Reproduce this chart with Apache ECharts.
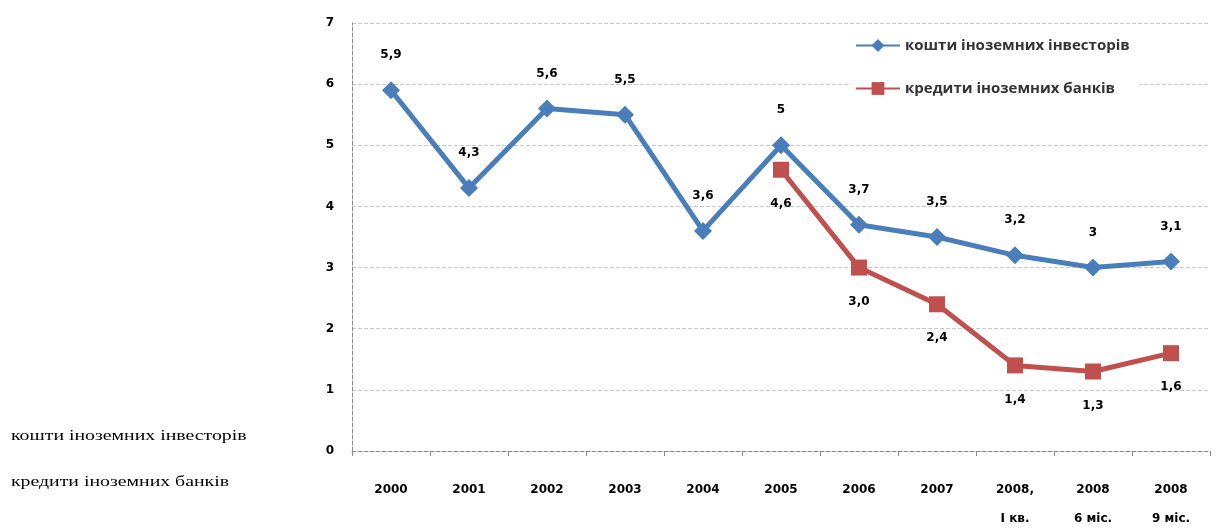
<!DOCTYPE html>
<html><head><meta charset="utf-8">
<script src="https://cdn.jsdelivr.net/npm/echarts@6/dist/echarts.min.js"></script>
<style>html,body{margin:0;padding:0;background:#fff}#c{width:1216px;height:529px}</style>
</head><body><div id="c"></div>
<script>
const categories = ['2000','2001','2002','2003','2004','2005','2006','2007','2008,\nІ кв.','2008\n6 міс.','2008\n9 міс.'];
const investors = [5.9,4.3,5.6,5.5,3.6,5.0,3.7,3.5,3.2,3.0,3.1];
const banks = [null,null,null,null,null,4.6,3.0,2.4,1.4,1.3,1.6];
const yTicks = [0,1,2,3,4,5,6,7];
const nameInv = 'кошти іноземних інвесторів';
const nameBank = 'кредити іноземних банків';
const fmt = p => String(p.value).replace('.', ',');
const chart = echarts.init(document.getElementById('c'));
chart.setOption({
  animation:false,
  backgroundColor:'#fff',
  grid:{left:352,right:6,top:23,bottom:78,containLabel:false,outerBoundsMode:'none'},
  legend:{
    orient:'vertical', left:851, top:34, itemGap:28, itemWidth:44, itemHeight:16,
    backgroundColor:'#fff', padding:[4,10,6,4],
    textStyle:{fontFamily:'Open Sans',fontSize:15,fontWeight:'bold',color:'#333'},
    data:[nameInv,nameBank]
  },
  xAxis:{type:'category',data:categories,boundaryGap:true,
    axisLine:{lineStyle:{color:'#888',type:'dashed',width:1}},
    axisTick:{show:true,lineStyle:{color:'#888'},length:5},
    axisLabel:{fontFamily:'DejaVu Sans',fontSize:12,fontWeight:'bold',color:'#000',margin:24,lineHeight:29,interval:0}},
  yAxis:{type:'value',min:0,max:7,interval:1,
    axisLine:{show:true,lineStyle:{color:'#888',type:'dashed'}},
    axisTick:{show:false},
    splitLine:{lineStyle:{color:'#c8c8c8',type:'dashed'}},
    axisLabel:{fontFamily:'DejaVu Sans',fontSize:12,fontWeight:'bold',color:'#000',margin:18,
      formatter:v=>yTicks.includes(v)?String(v):''}},
  series:[
    {name:nameInv,type:'line',data:investors,symbol:'diamond',symbolSize:18,
     lineStyle:{color:'#4a7ebb',width:5},itemStyle:{color:'#4a7ebb'},
     label:{show:true,position:'top',distance:20,fontFamily:'DejaVu Sans',fontSize:12,fontWeight:'bold',color:'#000',formatter:fmt}},
    {name:nameBank,type:'line',data:banks,symbol:'rect',symbolSize:16,
     lineStyle:{color:'#c0504d',width:5},itemStyle:{color:'#c0504d'},
     label:{show:true,position:'bottom',distance:20,fontFamily:'DejaVu Sans',fontSize:12,fontWeight:'bold',color:'#000',
       formatter:p=>p.value.toFixed(1).replace('.', ',')}}
  ],
  graphic:[
    {type:'text',x:11,y:429,scaleX:1.32,style:{text:nameInv,font:'15px "Liberation Serif"',fill:'#000'}},
    {type:'text',x:11,y:475,scaleX:1.32,style:{text:nameBank,font:'15px "Liberation Serif"',fill:'#000'}}
  ]
});
</script></body></html>
